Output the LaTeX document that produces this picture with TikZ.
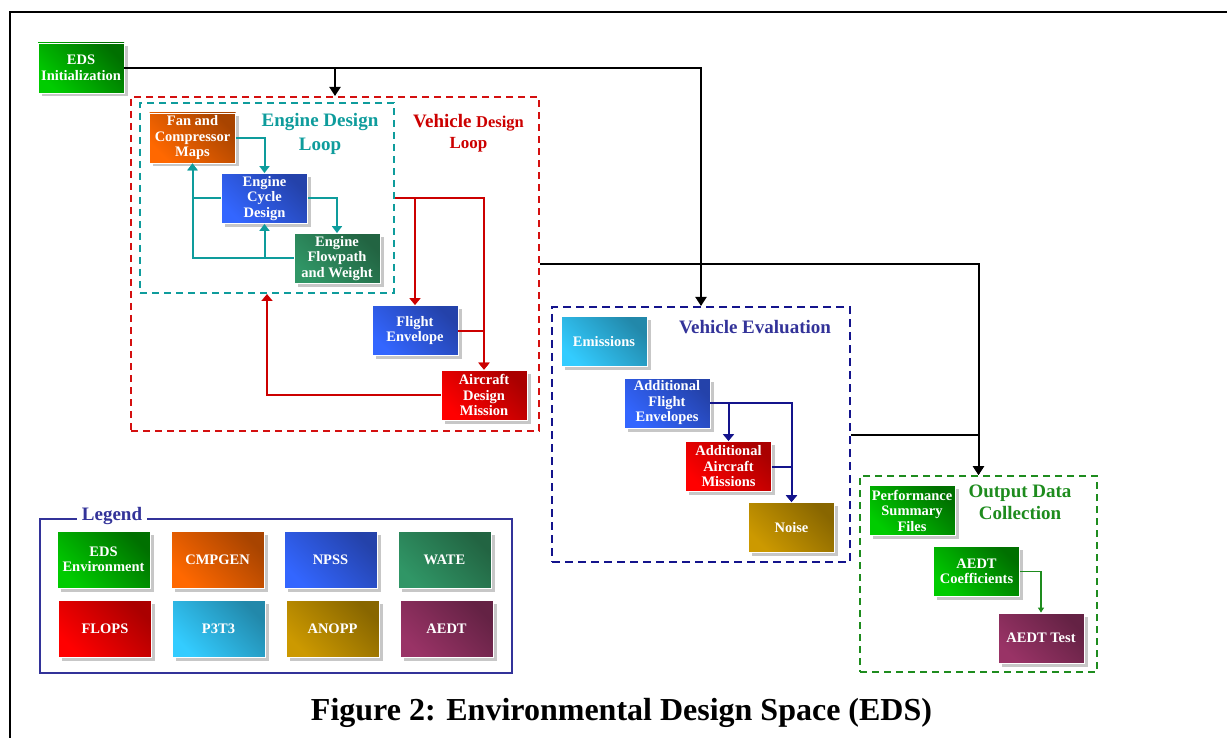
\documentclass[tikz,border=0pt]{standalone}
\usepackage{fontspec}
\setmainfont{Liberation Serif}
\usetikzlibrary{arrows.meta,shadows}

% tool colours: dark (upper right) and light (lower left) ends of each gradient
\definecolor{edsD}{RGB}{0,112,0}     \definecolor{edsL}{RGB}{0,204,0}
\definecolor{cmpD}{RGB}{168,68,0}    \definecolor{cmpL}{RGB}{255,104,0}
\definecolor{npsD}{RGB}{36,66,170}   \definecolor{npsL}{RGB}{51,102,255}
\definecolor{watD}{RGB}{34,100,66}   \definecolor{watL}{RGB}{48,150,102}
\definecolor{floD}{RGB}{170,0,0}     \definecolor{floL}{RGB}{255,0,0}
\definecolor{p3tD}{RGB}{34,136,170}  \definecolor{p3tL}{RGB}{51,204,255}
\definecolor{anoD}{RGB}{136,102,0}   \definecolor{anoL}{RGB}{204,153,0}
\definecolor{aedD}{RGB}{100,34,68}   \definecolor{aedL}{RGB}{153,51,102}
% loop / group colours
\definecolor{loopTeal}{RGB}{14,156,156}
\definecolor{loopRed}{RGB}{212,16,16}
\definecolor{lblRed}{RGB}{204,0,0}
\definecolor{loopNavy}{RGB}{20,20,140}
\definecolor{lblNavy}{RGB}{51,51,153}
\definecolor{loopGreen}{RGB}{30,140,30}

\newcommand\toolfont{\bfseries\fontsize{14.5}{15.5}\selectfont}
\newcommand\groupfont{\bfseries\fontsize{19}{22}\selectfont}

\tikzset{
  tool/.style={draw=white, line width=0.8pt, minimum width=86pt, minimum height=50pt,
    inner sep=1pt, align=center, text=white, font=\toolfont,
    drop shadow={shadow xshift=3.5pt, shadow yshift=-3.5pt, fill=black!22, opacity=1}},
  legbox/.style={minimum width=93pt, minimum height=57pt},
  eds/.style={tool, top color=edsD, bottom color=edsL, shading angle=-45},
  cmp/.style={tool, top color=cmpD, bottom color=cmpL, shading angle=-45},
  nps/.style={tool, top color=npsD, bottom color=npsL, shading angle=-45},
  wat/.style={tool, top color=watD, bottom color=watL, shading angle=-45},
  flo/.style={tool, top color=floD, bottom color=floL, shading angle=-45},
  p3t/.style={tool, top color=p3tD, bottom color=p3tL, shading angle=-45},
  ano/.style={tool, top color=anoD, bottom color=anoL, shading angle=-45},
  aed/.style={tool, top color=aedD, bottom color=aedL, shading angle=-45},
  group/.style={draw, line width=2pt, dash pattern=on 7pt off 5pt, inner sep=0pt},
  grouplbl/.style={anchor=base, inner sep=0pt, font=\groupfont},
  kline/.style={draw=black, line width=2pt, -{Triangle[width=11pt,length=9pt]}},
  tline/.style={draw=loopTeal, line width=2pt, -{Triangle[width=10pt,length=7pt]}},
  rline/.style={draw=lblRed, line width=2pt, -{Triangle[width=11pt,length=7pt]}},
  nline/.style={draw=loopNavy, line width=2pt, -{Triangle[width=11pt,length=7pt]}},
  gline/.style={draw=loopGreen, line width=1.5pt, -{Triangle[width=6pt,length=5pt]}},
}

\begin{document}
\begin{tikzpicture}[x=1pt,y=-1pt]
\useasboundingbox (0,0) rectangle (1227,738);

% page frame
\draw[line width=2pt] (1235,12) -- (10,12) -- (10,745);

% group boxes
\node[group, draw=loopRed,   minimum width=408pt, minimum height=334pt] (vdl) at (335,264) {};
\node[group, draw=loopTeal,  minimum width=254pt, minimum height=190pt] (eng) at (267,198) {};
\node[group, draw=loopNavy,  minimum width=298pt, minimum height=255pt, dash pattern=on 8pt off 5pt] (veh) at (701,434.5) {};
\node[group, draw=loopGreen, minimum width=237pt, minimum height=196pt] (odc) at (978.5,574) {};

% group titles
\node[grouplbl, text=loopTeal] (engT1) at (320,127) {Engine Design};
\node[grouplbl, text=loopTeal] (engT2) at (320,151) {Loop};
\node[grouplbl, text=lblRed] (vdlT1) at (468.5,128) {Vehicle {\fontsize{16.5}{18}\selectfont Design}};
\node[grouplbl, text=lblRed, font=\bfseries\fontsize{17}{19}\selectfont] (vdlT2) at (468.5,149) {Loop};
\node[grouplbl, text=lblNavy] (vehT) at (755,334) {Vehicle Evaluation};
\node[grouplbl, text=loopGreen] (odcT1) at (1020,497) {Output Data};
\node[grouplbl, text=loopGreen] (odcT2) at (1020,519) {Collection};

% tools
\node[eds] (init) at (81,68) {EDS\\Initialization};
\node[cmp] (fan)  at (192.5,138) {Fan and\\Compressor\\Maps};
\node[nps] (cyc)  at (264.5,198.5) {Engine\\Cycle\\Design};
\node[wat] (flow) at (337,258.5) {Engine\\Flowpath\\and Weight};
\node[nps] (fe)   at (415,330.5) {Flight\\Envelope};
\node[flo] (mis)  at (484,395) {Aircraft\\Design\\Mission};
\node[p3t] (emi)  at (604,341.5) {Emissions};
\node[nps] (afe)  at (667,403) {Additional\\Flight\\Envelopes};
\node[flo] (aam)  at (728.5,466.5) {Additional\\Aircraft\\Missions};
\node[ano] (noise) at (791.5,527.5) {Noise};
\node[eds] (psf)  at (912,510.5) {Performance\\Summary\\Files};
\node[eds] (coef) at (976.5,571.5) {AEDT\\Coefficients};
\node[aed] (test) at (1041,638) {AEDT Test};

% engine design loop
\draw[tline] (fan.east) -| (cyc.north);
\draw[tline] (cyc.east) -| (flow.north);
\draw[tline] (cyc.west) -| (fan.south);
\draw[tline] (flow.west) -| (fan.south);
\draw[tline] (flow.west) -| (cyc.south);

% vehicle design loop
\draw[rline] (eng.east |- cyc.east) -| (fe.north);
\draw[rline] (eng.east |- cyc.east) -| (mis.north);
\draw[rline] (fe.east) -| (mis.north);
\draw[rline] (mis.west) -| (eng.south);

% vehicle evaluation
\draw[nline] (afe.east) -| (aam.north);
\draw[nline] (afe.east) -| (noise.north);
\draw[nline] (aam.east) -| (noise.north);

% output data collection
\draw[gline] (coef.east) -| (test.north);

% main flow
\draw[kline] (init.east) -| (vdl.north);
\draw[kline] (init.east) -| (veh.north);
\draw[kline] (vdl.east) -| (odc.north);
\draw[kline] (veh.east) -| (odc.north);

% legend
\node[draw=lblNavy, line width=2pt, minimum width=472pt, minimum height=154pt, inner sep=0pt] (leg) at (276,596) {};
\node[grouplbl, text=lblNavy, fill=white, inner xsep=5pt, inner ysep=1pt] (legT) at (112,520) {Legend};
\node[eds, legbox] (lg1) at (103.5,559.5) {EDS\\Environment};
\node[cmp, legbox] (lg2) at (217.5,559.5) {CMPGEN};
\node[nps, legbox] (lg3) at (330.5,559.5) {NPSS};
\node[wat, legbox] (lg4) at (444.5,559.5) {WATE};
\node[flo, legbox] (lg5) at (105,628.5) {FLOPS};
\node[p3t, legbox] (lg6) at (218.5,628.5) {P3T3};
\node[ano, legbox] (lg7) at (332.5,628.5) {ANOPP};
\node[aed, legbox] (lg8) at (446.5,628.5) {AEDT};

% caption
\node[anchor=base, inner sep=0pt, font=\bfseries\fontsize{32}{36}\selectfont] (cap) at (621.5,720) {Figure 2: Environmental Design Space (EDS)};
\end{tikzpicture}
\end{document}
